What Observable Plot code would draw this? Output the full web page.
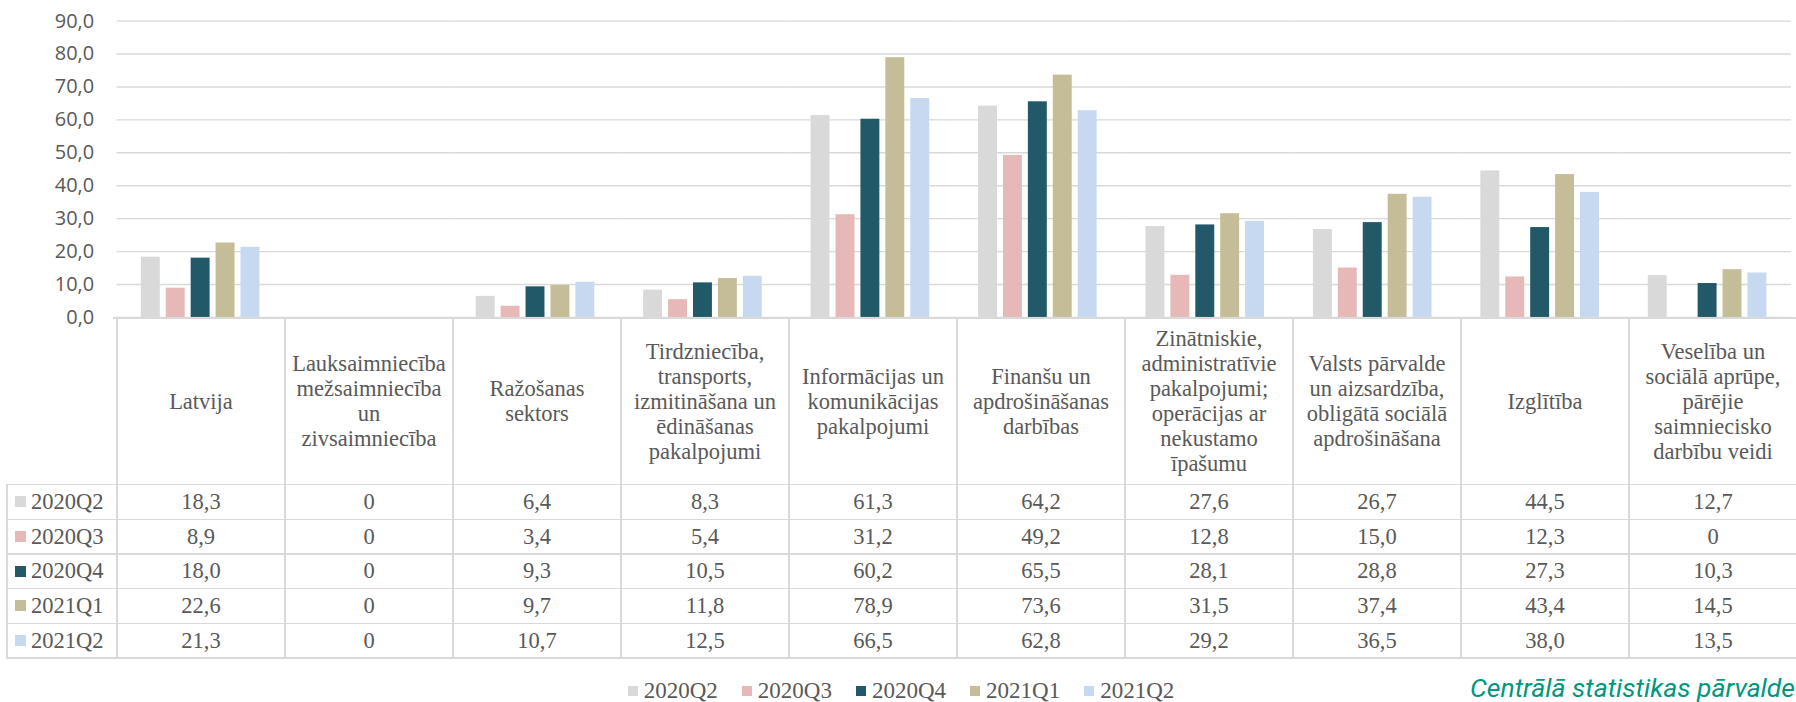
<!DOCTYPE html>
<html>
<head>
<meta charset="utf-8">
<script src="https://cdn.jsdelivr.net/npm/d3@7"></script>
<script src="https://cdn.jsdelivr.net/npm/@observablehq/plot@0.6"></script>
<style>
  html, body { margin: 0; padding: 0; background: #ffffff; overflow: hidden; }
  #root { position: relative; width: 1796px; height: 702px; overflow: hidden; background: #fff; }
  #root svg { display: block; position: absolute; left: 0; top: 0; }
  .serif { font-family: "Liberation Serif", "Tinos", "DejaVu Serif", "Noto Serif", "Times New Roman", Times, serif; }
  .cell { position: absolute; display: flex; align-items: center; justify-content: center; text-align: center;
          font-size: 22.5px; color: #595959; white-space: pre-line; }
  .hdr { line-height: 25px; }
  .ln { position: absolute; background: #d9d9d9; }
</style>
</head>
<body>
<div id="root"></div>
<script>
// ---- data ----
const categories = [
  "Latvija",
  "Lauksaimniecība\nmežsaimniecība\nun\nzivsaimniecība",
  "Ražošanas\nsektors",
  "Tirdzniecība,\ntransports,\nizmitināšana un\nēdināšanas\npakalpojumi",
  "Informācijas un\nkomunikācijas\npakalpojumi",
  "Finanšu un\napdrošināšanas\ndarbības",
  "Zinātniskie,\nadministratīvie\npakalpojumi;\noperācijas ar\nnekustamo\nīpašumu",
  "Valsts pārvalde\nun aizsardzība,\nobligātā sociālā\napdrošināšana",
  "Izglītība",
  "Veselība un\nsociālā aprūpe,\npārējie\nsaimniecisko\ndarbību veidi"
];
const series = ["2020Q2", "2020Q3", "2020Q4", "2021Q1", "2021Q2"];
const colors = ["#d9d9d9", "#e6b9b8", "#215968", "#c4bd97", "#c6d9f1"];
const v2020Q2 = [18.3, 0, 6.4, 8.3, 61.3, 64.2, 27.6, 26.7, 44.5, 12.7];
const v2020Q3 = [8.9, 0, 3.4, 5.4, 31.2, 49.2, 12.8, 15.0, 12.3, 0];
const v2020Q4 = [18.0, 0, 9.3, 10.5, 60.2, 65.5, 28.1, 28.8, 27.3, 10.3];
const v2021Q1 = [22.6, 0, 9.7, 11.8, 78.9, 73.6, 31.5, 37.4, 43.4, 14.5];
const v2021Q2 = [21.3, 0, 10.7, 12.5, 66.5, 62.8, 29.2, 36.5, 38.0, 13.5];
const yTicks = [0, 10, 20, 30, 40, 50, 60, 70, 80, 90];
const caption = "Centrālā statistikas pārvalde";

const seriesValues = [v2020Q2, v2020Q3, v2020Q4, v2021Q1, v2021Q2];
const data = [];
series.forEach((s, si) => categories.forEach((c, ci) => data.push({cat: c, series: s, value: seriesValues[si][ci]})));

const fmtAxis = d => d.toFixed(1).replace(".", ",");
const fmtVal = d => d === 0 ? "0" : d.toFixed(1).replace(".", ",");

// ---- layout constants ----
const W = 1802, H = 319;
const left = 113.7, zeroY = 318;
const headerH = 166.6, rowH = 34.67, labelLeft = 7;

const chart = Plot.plot({
  width: W, height: H,
  marginLeft: left, marginRight: 1.3, marginTop: 20.7, marginBottom: H - zeroY,
  style: {fontFamily: "'Open Sans', 'Noto Sans', sans-serif", fontSize: "20px", color: "#595959", background: "transparent", overflow: "visible"},
  fx: {domain: categories, padding: 0, axis: null, label: null},
  x: {domain: series, paddingInner: 0.2308, paddingOuter: 0.86, axis: null, label: null},
  y: {domain: [0, 90], axis: null, label: null},
  color: {domain: series, range: colors},
  marks: [
    Plot.ruleY(yTicks, {stroke: "#d9d9d9", strokeWidth: 1.4}),
    Plot.barY(data, {fx: "cat", x: "series", y: "value", fill: "series"}),
    Plot.axisY({ticks: yTicks, tickFormat: fmtAxis, tickSize: 0, tickPadding: 23, fontSize: 20, anchor: "left", label: null})
  ]
});
const root = document.getElementById("root");
root.appendChild(chart);

// ---- data table aligned with the fx scale ----
const fx = chart.scale("fx");
const bw = fx.bandwidth != null ? fx.bandwidth : (W - 1.3 - left) / categories.length;
const colX = categories.map(c => fx.apply(c));
const tableRight = colX[colX.length - 1] + bw;
const tableBottom = zeroY + headerH + rowH * series.length;

function line(x, y, w, h) {
  const d = document.createElement("div");
  d.className = "ln";
  d.style.left = x + "px"; d.style.top = y + "px"; d.style.width = w + "px"; d.style.height = h + "px";
  root.appendChild(d);
}
function cell(x, y, w, h, text, cls) {
  const d = document.createElement("div");
  d.className = "cell serif" + (cls ? " " + cls : "");
  d.style.left = x + "px"; d.style.top = y + "px"; d.style.width = w + "px"; d.style.height = h + "px";
  d.textContent = text;
  root.appendChild(d);
  return d;
}
// header
categories.forEach((c, i) => cell(colX[i], zeroY, bw, headerH, c, "hdr"));
// rows
series.forEach((s, si) => {
  const y = zeroY + headerH + si * rowH;
  const lab = cell(labelLeft, y, left - labelLeft, rowH, "", "");
  lab.style.justifyContent = "flex-start";
  const sw = document.createElement("span");
  sw.style.cssText = `display:inline-block;width:11px;height:11px;background:${colors[si]};margin-left:8px;margin-right:5px;`;
  lab.appendChild(sw);
  lab.appendChild(document.createTextNode(s));
  categories.forEach((c, ci) => cell(colX[ci], y, bw, rowH, fmtVal(seriesValues[si][ci]), ""));
});
// borders
const t = 1.5;
line(left - t / 2, zeroY - t / 2, tableRight - left + t, t);
for (let r = 0; r <= series.length; r++) {
  const y = zeroY + headerH + r * rowH;
  line(labelLeft - t / 2, y - t / 2, tableRight - labelLeft + t, t);
}
line(labelLeft - t / 2, zeroY + headerH, t, tableBottom - zeroY - headerH);
colX.forEach(x => line(x - t / 2, zeroY, t, tableBottom - zeroY));
line(tableRight - t / 2, zeroY, t, tableBottom - zeroY);

// ---- legend ----
const leg = document.createElement("div");
leg.className = "serif";
leg.style.cssText += "position:absolute;left:3px;top:681px;width:1796px;height:20px;display:flex;justify-content:center;gap:24px;font-size:23px;line-height:20px;color:#595959;";
series.forEach((s, i) => {
  const it = document.createElement("div");
  it.style.cssText = "display:flex;align-items:center;";
  const sw = document.createElement("span");
  sw.style.cssText = `display:inline-block;width:10px;height:10px;background:${colors[i]};margin-right:6px;`;
  it.appendChild(sw);
  it.appendChild(document.createTextNode(s));
  leg.appendChild(it);
});
root.appendChild(leg);

// ---- caption ----
const cap = document.createElement("div");
cap.style.cssText = "position:absolute;right:1px;top:675px;font-family:Roboto,'Noto Sans',sans-serif;font-style:italic;font-size:26.5px;line-height:26px;color:#00977f;white-space:nowrap;";
cap.textContent = caption;
root.appendChild(cap);
</script>
</body>
</html>
